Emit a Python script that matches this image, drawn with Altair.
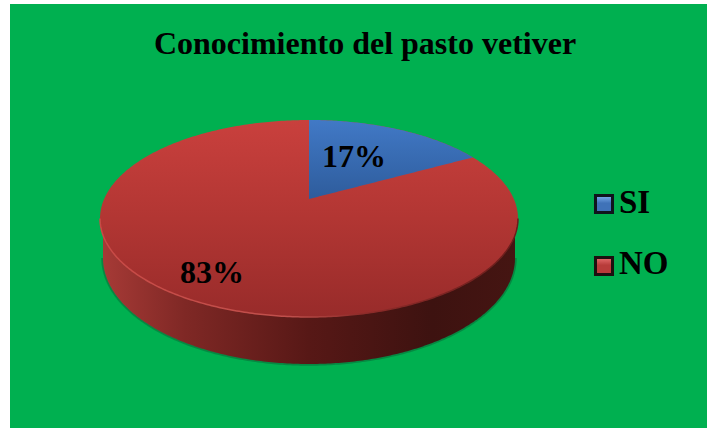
import altair as alt
import numpy as np
import pandas as pd

TITLE = "Conocimiento del pasto vetiver"
categories = ["SI", "NO"]
percentages = [17, 83]
labels = ["17%", "83%"]

W, H = 707, 428
# Pie geometry on the canvas: top-face ellipse, its tilted apex and the wall's lower edge.
CX, CY, RX, RY = 309.0, 218.5, 209.0, 98.5
APEX_V = (199.0 - CY) / RY
BOTTOM_CY, BOTTOM_RX, BOTTOM_RY = 258.0, 206.0, 106.0
SERIF = "Liberation Serif"

x_scale = alt.Scale(domain=[(0 - CX) / RX, (W - CX) / RX], range=[0, W], nice=False, zero=False)
y_scale = alt.Scale(domain=[(0 - CY) / RY, (H - CY) / RY], range=[0, H], nice=False, zero=False)
X = alt.X("u:Q", scale=x_scale, axis=None)
Y = alt.Y("v:Q", scale=y_scale, axis=None)
Y2 = alt.Y2("v2:Q")


def project(theta):
    """Angle on the pie (clockwise from 12 o'clock) to a point on the tilted ellipse."""
    px, py = np.sin(theta), -np.cos(theta)
    d = 1 + py * APEX_V
    return px * np.sqrt(1 - APEX_V ** 2) / d, (py + APEX_V) / d


sweep = np.sin(np.linspace(-np.pi / 2, np.pi / 2, 241))
half = np.sqrt(1 - sweep ** 2)

top_face = pd.DataFrame({"u": sweep, "v": -half, "v2": half})
rim = pd.DataFrame({"u": sweep, "v": half})

wall_u = sweep * BOTTOM_RX / RX
wall_lower = (BOTTOM_CY - CY + BOTTOM_RY * half) / RY
wall = pd.DataFrame({"u": wall_u, "v": 0 * sweep, "v2": wall_lower})
wall_edge = pd.DataFrame({"u": wall_u, "v": wall_lower})

# The first slice starts at 12 o'clock and ends where its share of the total says.
end_u, end_v = project(2 * np.pi * percentages[0] / sum(percentages))
wedge_u = np.linspace(0, end_u, 80)
wedge = pd.DataFrame({
    "u": wedge_u,
    "v": -np.sqrt(1 - wedge_u ** 2),
    "v2": APEX_V + (end_v - APEX_V) * wedge_u / end_u,
})


def vertical(*stops):
    return alt.Gradient(gradient="linear", x1=0, x2=0, y1=0, y2=1,
                        stops=[alt.GradientStop(offset=o, color=c) for o, c in stops])


def horizontal(*stops):
    return alt.Gradient(gradient="linear", x1=0, x2=1, y1=0, y2=0,
                        stops=[alt.GradientStop(offset=o, color=c) for o, c in stops])


one = alt.Data(values=[{}])

background = alt.Chart(one).mark_rect(color="#00B050").encode(
    x=alt.value(10), x2=alt.value(W), y=alt.value(4), y2=alt.value(H)
)

# Soft contact shadow just outside the wall's lower edge.
shadow_layer = alt.Chart(wall_edge).mark_line(
    color="#0A5A30", opacity=0.45, strokeWidth=3.5
).encode(x=X, y=Y)

wall_layer = alt.Chart(wall).mark_area(
    color=horizontal((0, "#A63A36"), (0.2, "#7F2825"), (0.5, "#571816"),
                     (0.8, "#3D1210"), (1, "#451512"))
).encode(x=X, y=Y, y2=Y2)

top_layer = alt.Chart(top_face).mark_area(
    color=vertical((0, "#C9403D"), (0.5, "#B23633"), (1, "#982B2A"))
).encode(x=X, y=Y, y2=Y2)

rim_layer = alt.Chart(rim).mark_line(
    strokeWidth=1.5,
    color=horizontal((0, "#C94A46"), (0.45, "#C0504C"), (0.62, "#8F2C2A"), (1, "#6A1D1B")),
).encode(x=X, y=Y)

wedge_layer = alt.Chart(wedge).mark_area(
    color=vertical((0, "#4179C6"), (1, "#2E5C9C"))
).encode(x=X, y=Y, y2=Y2)


def text(content, x, y, size, align="left"):
    return alt.Chart(one).mark_text(
        text=content, font=SERIF, fontWeight="bold", fontSize=size,
        color="black", align=align, baseline="alphabetic",
    ).encode(x=alt.value(x), y=alt.value(y))


def legend_key(y, stroke, light, base):
    return alt.Chart(one).mark_square(
        size=290, opacity=1, stroke=stroke, strokeWidth=3,
        fill=vertical((0, light), (0.45, base), (1, base)),
    ).encode(x=alt.value(604), y=alt.value(y))


layers = [
    background, shadow_layer, wall_layer, top_layer, rim_layer, wedge_layer,
    text(TITLE, 365, 54, 32, "center"),
    text(labels[0], 354, 167, 32, "center"),
    text(labels[1], 212, 283, 32, "center"),
    legend_key(204, "#10141C", "#7FB2F0", "#3F72B8"),
    text(categories[0], 619, 213, 33),
    legend_key(266, "#1C1010", "#E87070", "#B83C3A"),
    text(categories[1], 619, 274, 33),
]

chart = alt.layer(*layers).properties(
    width=W, height=H, padding=0, background="white",
    autosize=alt.AutoSizeParams(type="none"),
).configure_view(stroke=None)

chart.save("out.html", embed_options={"renderer": "svg", "actions": False})
